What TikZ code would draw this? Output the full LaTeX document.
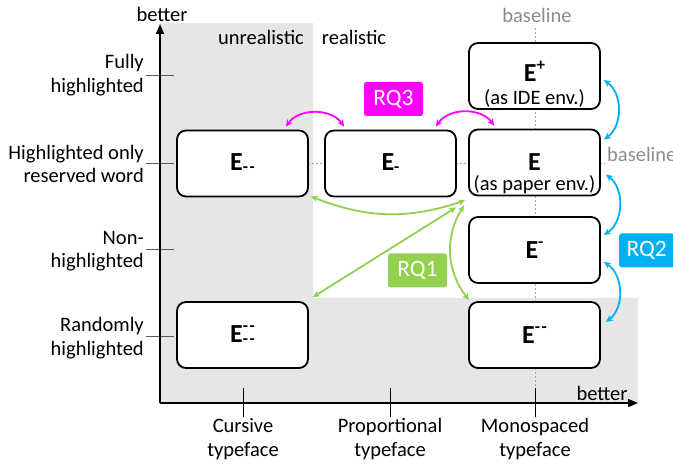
\documentclass[tikz,border=0pt]{standalone}
\usepackage{fontspec}
\setmainfont{Carlito}
\usetikzlibrary{arrows.meta,calc}
\definecolor{rqgreen}{HTML}{92D050}
\definecolor{rqblue}{HTML}{00B0F0}
\definecolor{rqmag}{HTML}{FF00FF}
\definecolor{bggray}{HTML}{E6E6E6}
\definecolor{basegray}{HTML}{8C8C8C}
\definecolor{tickgray}{HTML}{595959}
\newcommand{\dd}{-\kern1.5pt-}
\newcommand{\Ebig}{\fontsize{26}{26}\selectfont\bfseries}
\newcommand{\supx}[1]{\raisebox{11pt}{\fontsize{17}{17}\selectfont #1}}
\newcommand{\subx}[1]{\raisebox{-2pt}{\fontsize{17}{17}\selectfont #1}}
\begin{document}
\begin{tikzpicture}[x=1pt,y=-1pt,
  lbl/.style={font=\fontsize{20.5}{23.5}\selectfont, inner sep=0pt},
  ylbl/.style={lbl, anchor=east, align=right},
  xlbl/.style={lbl, align=center},
  baselbl/.style={lbl, text=basegray},
  box/.style={draw, line width=1.8pt, rounded corners=9pt, fill=white,
    minimum width=131pt, minimum height=66pt, inner sep=0pt, font=\Ebig},
  subtxt/.style={font=\fontsize{20.5}{20}\selectfont, inner sep=0pt},
  rqbox/.style={rounded corners=2.5pt, text=white, minimum width=59pt,
    minimum height=34pt, inner sep=0pt, font=\fontsize{23.5}{24}\selectfont},
  axisline/.style={line width=1.4pt, -{Triangle[length=10pt,width=8pt]}},
  tick/.style={line width=0.9pt, tickgray},
  basedash/.style={line width=0.8pt, basegray!80, dash pattern=on 2pt off 2pt},
  rqarrow/.style={line width=1.8pt, {Stealth[length=7pt,width=6.5pt]}-{Stealth[length=7pt,width=6.5pt]}},
]
\useasboundingbox (0,0) rectangle (673,468);
% background region
\fill[bggray] (160,23) -- (313,23) -- (313,298) -- (638,298) -- (638,403) -- (160,403) -- cycle;
% baselines
\draw[basedash] (535,28) -- (535,415);
\draw[basedash] (160,163) -- (605,163);
\node[baselbl] (blt) at (537,15) {baseline};
\node[baselbl, anchor=west] (blr) at (607,154) {baseline};
% ticks
\draw[tick] (146,75) -- (174,75);
\draw[tick] (146,163) -- (174,163);
\draw[tick] (146,249) -- (174,249);
\draw[tick] (146,336) -- (174,336);
\draw[tick, black] (243,388) -- (243,417);
\draw[tick, black] (390,388) -- (390,417);
\draw[tick, black] (535,388) -- (535,417);
% axes
\coordinate (O) at (160,403);
\coordinate (ytip) at (160,24);
\coordinate (xtip) at (638,403);
\draw[axisline] (O) -- (ytip);
\draw[axisline] (O) -- (xtip);
\node[lbl] (by) at (162,14) {better};
\node[lbl] (bx) at (602,393) {better};
% axis labels
\node[ylbl] (l1) at (144,75) {Fully\\highlighted};
\node[ylbl] (l2) at (144,164) {Highlighted only\\reserved word};
\node[ylbl] (l3) at (144,251) {Non-\\highlighted};
\node[ylbl] (l4) at (144,338) {Randomly\\highlighted};
\node[xlbl] (c1) at (243,439) {Cursive\\typeface};
\node[xlbl] (c2) at (390,439) {Proportional\\typeface};
\node[xlbl] (c3) at (535,439) {Monospaced\\typeface};
\node[lbl] (unr) at (261,37) {unrealistic};
\node[lbl] (rea) at (354,37) {realistic};
% boxes
\node[box] (Emm) at (242.5,163.5) {E\subx{\dd}};
\node[box] (Em) at (390.5,163.5) {E\subx{-}};
\node[box, label={[subtxt, yshift=-22pt]center:(as paper env.)}] (E) at (534.5,162.5) {E};
\node[box, label={[subtxt, yshift=-22pt]center:(as IDE env.)}] (Ep) at (534.5,76) {\raisebox{9pt}{E\supx{+}}};
\node[box] (Eminus) at (534.5,250) {E\supx{-}};
\node[box] (Emm2) at (534.5,335) {E\supx{\dd}};
\node[box] (Ecol) at (242.5,335) {E\rlap{\supx{\dd}}\subx{\dd}};
% RQ labels
\node[rqbox, fill=rqmag] (rq3) at (393.5,99) {RQ3};
\node[rqbox, fill=rqgreen] (rq1) at (417.5,270.5) {RQ1};
\node[rqbox, fill=rqblue, minimum width=55pt, anchor=west] (rq2) at (619,250.5) {RQ2};
% magenta arrows
\draw[rqarrow, rqmag] ($(Emm.north east)+(-23,-3)$) to[bend left=55] ($(Em.north west)+(20,-3)$);
\draw[rqarrow, rqmag] ($(Em.north east)+(-21,-3)$) to[bend left=55] ($(E.north west)+(26,-3)$);
% blue arrows
\draw[rqarrow, rqblue] ($(Ep.east)+(3,4)$) to[bend left=55] ($(E.east)+(3,-23)$);
\draw[rqarrow, rqblue] ($(E.east)+(5,12)$) to[bend left=55] ($(Eminus.east)+(3,-15)$);
\draw[rqarrow, rqblue] ($(Eminus.east)+(3,12)$) to[bend left=55] ($(Emm2.east)+(5,-13)$);
% green arrows
\draw[rqarrow, rqgreen] ($(Emm.south east)+(2,-1)$) to[bend right=20] ($(E.south west)+(-3,4)$);
\draw[rqarrow, rqgreen] ($(Ecol.north east)+(4,-4)$) -- ($(E.south west)+(-12,11)$);
\draw[rqarrow, rqgreen] ($(E.south west)+(-4,9)$) to[bend right=35] ($(Emm2.north west)+(1,-1)$);
\end{tikzpicture}
\end{document}
